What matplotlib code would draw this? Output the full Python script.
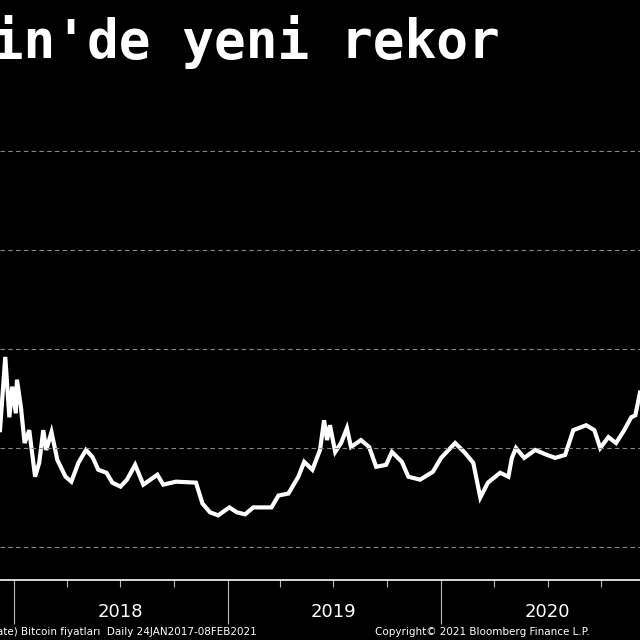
import numpy as np
import pandas as pd
import matplotlib.pyplot as plt
import matplotlib.dates as mdates

# Bitcoin price (USD)
dates = pd.to_datetime([
    "2017-12-08", "2017-12-17", "2017-12-24", "2017-12-29", "2018-01-04", "2018-01-06",
    "2018-01-13", "2018-01-19", "2018-01-27", "2018-02-06", "2018-02-13", "2018-02-20",
    "2018-02-25", "2018-03-06", "2018-03-16", "2018-03-30", "2018-04-09", "2018-04-21",
    "2018-05-04", "2018-05-15", "2018-05-25", "2018-06-08", "2018-06-18", "2018-07-02",
    "2018-07-13", "2018-07-27", "2018-08-10", "2018-09-03", "2018-09-13", "2018-10-05",
    "2018-11-08", "2018-11-19", "2018-12-02", "2018-12-16", "2019-01-04", "2019-01-17",
    "2019-01-31", "2019-02-14", "2019-03-17", "2019-03-29", "2019-04-15", "2019-05-02",
    "2019-05-12", "2019-05-26", "2019-06-08", "2019-06-15", "2019-06-20", "2019-06-25",
    "2019-07-04", "2019-07-14", "2019-07-24", "2019-07-31", "2019-08-17", "2019-08-31",
    "2019-09-12", "2019-09-29", "2019-10-09", "2019-10-26", "2019-11-06", "2019-11-26",
    "2019-12-18", "2020-01-01", "2020-01-25", "2020-02-11", "2020-02-25", "2020-03-08",
    "2020-03-21", "2020-04-11", "2020-04-25", "2020-05-01", "2020-05-08", "2020-05-22",
    "2020-06-10", "2020-06-30", "2020-07-14", "2020-07-31", "2020-08-14", "2020-09-05",
    "2020-09-19", "2020-09-29", "2020-10-13", "2020-10-26", "2020-11-09", "2020-11-21",
    "2020-11-28", "2020-12-06",
])
prices = [
    11800, 19200, 13100, 16200, 13500, 16900,
    14000, 10500, 11800, 7100, 8500, 11800,
    9800, 11600, 8800, 7100, 6600, 8500,
    9800, 9100, 7800, 7500, 6500, 6100,
    6800, 8300, 6300, 7300, 6300, 6600,
    6500, 4400, 3500, 3200, 4000, 3500,
    3300, 4000, 4000, 5200, 5400, 7100,
    8600, 7800, 9800, 12800, 10800, 12300,
    9600, 10500, 12000, 10100, 10800, 10100,
    8100, 8300, 9600, 8600, 7100, 6800,
    7600, 9000, 10500, 9500, 8500, 5000,
    6500, 7500, 7100, 9000, 10000, 9000,
    9800, 9300, 9000, 9300, 11800, 12300,
    11800, 10000, 11100, 10500, 11800, 13100,
    13300, 15600,
]
years = [2018, 2019, 2020]
grid_levels = [0, 10000, 20000, 30000, 40000]

fig = plt.figure(figsize=(6.4, 6.4), dpi=100, facecolor="black")
ax = fig.add_axes([0, 60/640, 1, 580/640], facecolor="black")
ax.plot(dates, prices, color="white", lw=3, solid_joinstyle="miter")

ax.set_xlim(pd.Timestamp("2017-12-08"), pd.Timestamp("2020-12-06"))
ax.set_ylim(-3333, 55250)
for g in grid_levels:
    ax.axhline(g, color="#888888", lw=0.8, ls=(0, (4, 3)))
ax.set_yticks([])

for s in ["top", "left", "right"]:
    ax.spines[s].set_visible(False)
ax.spines["bottom"].set_color("white")
ax.spines["bottom"].set_linewidth(1.2)

ax.xaxis.set_major_locator(mdates.YearLocator())
ax.xaxis.set_minor_locator(mdates.MonthLocator(bymonth=[4, 7, 10]))
ax.tick_params(axis="x", which="major", length=32, color="#bbbbbb", width=0.8, labelbottom=False)
ax.tick_params(axis="x", which="minor", length=5, color="#bbbbbb", width=0.8)
for y in years:
    ax.text(pd.Timestamp(f"{y}-07-01"), -0.055, str(y), transform=ax.get_xaxis_transform(),
            color="white", fontsize=13, ha="center", va="center", clip_on=False)

fig.text(500/640, 1 - 42/640, "Bitcoin'de yeni rekor", color="white", fontsize=38,
         fontweight="bold", family="DejaVu Sans Mono", ha="right", va="center")
fig.text(257/640, 1 - 632/640, "XBT Curncy (Bitcoin Spot Rate) Bitcoin fiyatları  Daily 24JAN2017-08FEB2021",
         color="white", fontsize=7.5, ha="right", va="center")
fig.text(375/640, 1 - 632/640, "Copyright© 2021 Bloomberg Finance L.P.",
         color="white", fontsize=7.5, ha="left", va="center")

fig.savefig("out.png", dpi=100, facecolor="black")
